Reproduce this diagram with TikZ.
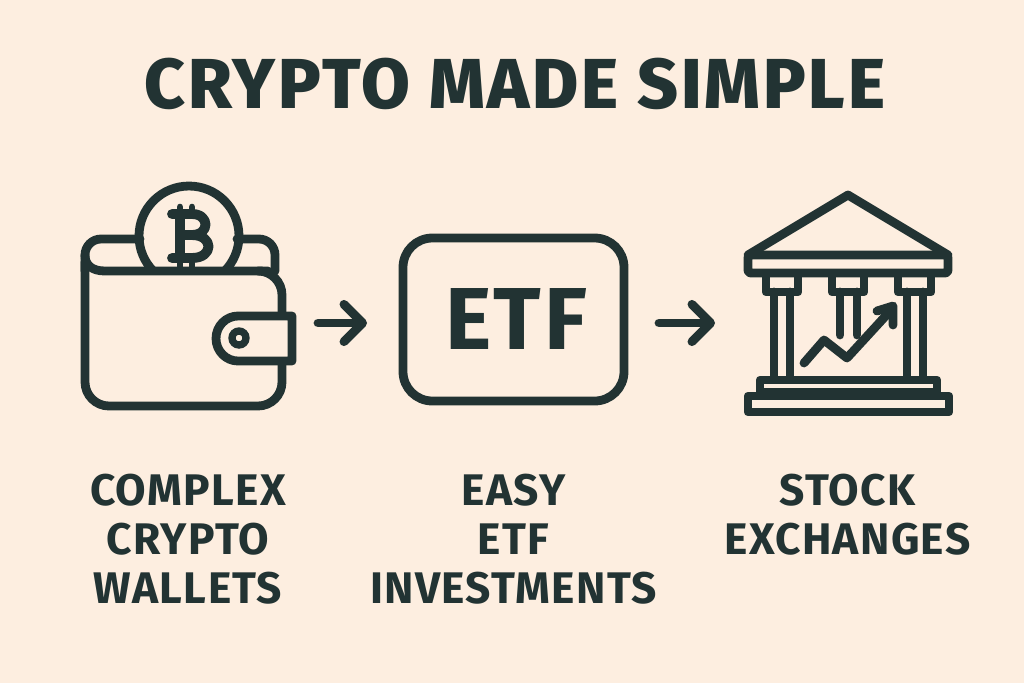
\documentclass[tikz,border=0pt]{standalone}
\usepackage{fontspec}
\setmainfont{Fira Sans}
\newfontfamily\labelfont[LetterSpace=3]{Fira Sans}
\newfontfamily\headfont[LetterSpace=4]{Fira Sans ExtraBold}
\usetikzlibrary{arrows.meta}
\definecolor{bgcream}{HTML}{FDEEE0}
\definecolor{inkdark}{HTML}{223333}
\tikzset{
  icon/.style={draw=inkdark,line width=6.6pt,line join=round,line cap=round},
  flow/.style={icon,-{Straight Barb[length=14pt,width=28pt,round]}},
  caption/.style={text=inkdark,align=center,font=\labelfont\bfseries\fontsize{33.2}{36.75}\selectfont,inner sep=0pt}
}
\begin{document}
\begin{tikzpicture}[x=0.75pt,y=-0.75pt]
\fill[bgcream] (0,0) rectangle (1024,683);
\useasboundingbox (0,0) rectangle (1024,683);

\node[text=inkdark,inner sep=0pt,font=\headfont\fontsize{53}{60}\selectfont] (title) at (515,84) {CRYPTO MADE SIMPLE};

% wallet
\begin{scope}
\clip (100,150) rectangle (280,271);
\draw[icon] (189,236) circle (50);
\end{scope}
\draw[icon,line width=7.4pt] (172,214) -- (192,214) .. controls (210,214) and (210,235) .. (192,235) -- (180,235);
\draw[icon,line width=7.4pt] (192,235) .. controls (214,235) and (214,258) .. (192,258) -- (172,258);
\draw[icon,line width=7.4pt] (180,214) -- (180,258);
\draw[icon,line width=5pt] (180,207) -- (180,214);
\draw[icon,line width=5pt] (192,207) -- (192,214);
\draw[icon,line width=5pt] (180,258) -- (180,270);
\draw[icon,line width=5pt] (192,258) -- (192,270);
\draw[icon,rounded corners=12] (140,239) -- (85,239) -- (85,271);
\draw[icon] (85,255) .. controls (85,265) and (92,271) .. (105,271) -- (268,271);
\draw[icon,rounded corners=12] (237,239) -- (275,239) -- (275,271);
\draw[icon,rounded corners=18] (85,262) -- (85,406) -- (282,406) -- (282,271) -- (262,271);
\draw[icon,fill=bgcream] (292,316) -- (238,316) .. controls (226,316) and (216,326) .. (216,338.5) .. controls (216,351) and (226,361) .. (238,361) -- (292,361) -- cycle;
\draw[draw=inkdark,line width=5.5pt] (239,338) circle (7);

% etf box
\draw[icon,rounded corners=22] (403,238) rectangle (624,401);
\node[text=inkdark,inner sep=0pt,font=\labelfont\bfseries\fontsize{66}{70}\selectfont] (etf) at (516,318.5) {ETF};

% bank
\draw[icon] (748,255) -- (848,195) -- (948,255);
\draw[icon,rounded corners=2] (748,255) rectangle (948,273);
\draw[icon] (766,273) rectangle (798,292);
\draw[icon] (832,273) rectangle (864,292);
\draw[icon] (898,273) rectangle (931,292);
\draw[icon] (774,292) -- (774,377);
\draw[icon] (790,292) -- (790,377);
\draw[icon] (907,292) -- (907,377);
\draw[icon] (923,292) -- (923,377);
\draw[icon] (840,292) -- (840,335);
\draw[icon] (857,292) -- (857,335);
\draw[icon] (760,380) rectangle (937,392);
\draw[icon] (748,396) rectangle (949,412);
\draw[icon] (804,363) -- (824,340) -- (847,358) -- (892,309);
\draw[icon] (877,311) -- (893,306) -- (893,325);

% flow arrows
\coordinate (walletout) at (318,323);
\coordinate (etfin) at (367,323);
\coordinate (etfout) at (659,323);
\coordinate (bankin) at (715,323);
\draw[flow] (walletout) -- (etfin);
\draw[flow] (etfout) -- (bankin);

% captions
\node[caption] (walletlabel) at (188,539) {COMPLEX\\CRYPTO\\WALLETS};
\node[caption] (etflabel) at (513.5,539) {EASY\\ETF\\INVESTMENTS};
\node[caption] (banklabel) at (847.5,515) {STOCK\\EXCHANGES};
\end{tikzpicture}
\end{document}
